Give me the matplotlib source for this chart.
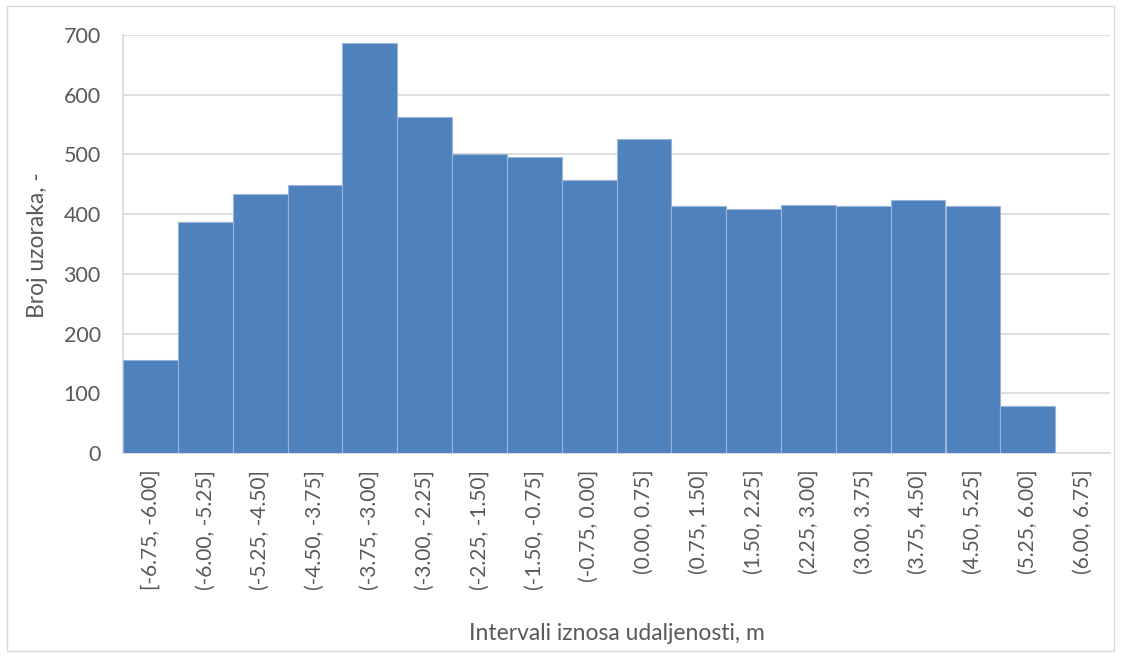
import matplotlib
matplotlib.use("Agg")
import matplotlib.pyplot as plt
from matplotlib.patches import Rectangle

# --------------------------------------------------------------------------- #
# Data
# --------------------------------------------------------------------------- #
intervals = [
    "[-6.75, -6.00]", "(-6.00, -5.25]", "(-5.25, -4.50]", "(-4.50, -3.75]",
    "(-3.75, -3.00]", "(-3.00, -2.25]", "(-2.25, -1.50]", "(-1.50, -0.75]",
    "(-0.75, 0.00]", "(0.00, 0.75]", "(0.75, 1.50]", "(1.50, 2.25]",
    "(2.25, 3.00]", "(3.00, 3.75]", "(3.75, 4.50]", "(4.50, 5.25]",
    "(5.25, 6.00]", "(6.00, 6.75]",
]
counts = [155, 387, 434, 448, 687, 563, 501, 496, 458, 526,
          413, 409, 416, 413, 423, 413, 78, 0]
y_ticks = [0, 100, 200, 300, 400, 500, 600, 700]

BAR_COLOR = "#4F81BD"
TEXT_COLOR = "#595959"
GRID_COLOR = "#D9D9D9"

plt.rcParams["font.family"] = ["Lato", "DejaVu Sans"]

W, H = 1121, 657
fig = plt.figure(figsize=(W / 100, H / 100), dpi=100)
ax = fig.add_axes([123 / W, 1 - 453 / H, (1110 - 123) / W, (453 - 35) / H])

x = range(len(counts))
ax.bar(x, counts, width=1.0, color=BAR_COLOR, edgecolor="#9DB6D8",
       linewidth=0.8, zorder=3)

ax.set_xlim(-0.5, len(counts) - 0.5)
ax.set_ylim(0, 700)
ax.set_yticks(y_ticks)
ax.yaxis.grid(True, color=GRID_COLOR, linewidth=1.2, zorder=0)
ax.set_xticks(list(x))
ax.set_xticklabels(intervals, rotation=90, fontsize=15, color=TEXT_COLOR)
ax.tick_params(axis="y", labelsize=15.5, labelcolor=TEXT_COLOR, length=0, pad=16)
ax.tick_params(axis="x", length=0, pad=12)

for side in ("top", "right"):
    ax.spines[side].set_visible(False)
ax.spines["bottom"].set_color(GRID_COLOR)
ax.spines["bottom"].set_linewidth(1.2)
ax.spines["left"].set_color(GRID_COLOR)
ax.spines["left"].set_linewidth(1.2)

fig.text(38 / W, 1 - 245 / H, "Broj uzoraka, -", rotation=90,
         ha="center", va="center", fontsize=16.5, color=TEXT_COLOR)
fig.text(617 / W, 1 - 633 / H, "Intervali iznosa udaljenosti, m",
         ha="center", va="center", fontsize=16.5, color=TEXT_COLOR)

# outer chart border
fig.patches.append(Rectangle((7 / W, 1 - 651 / H), (1114 - 7) / W, (651 - 6) / H,
                             transform=fig.transFigure, fill=False,
                             edgecolor=GRID_COLOR, linewidth=1.0))

fig.savefig("out.png", dpi=100)
